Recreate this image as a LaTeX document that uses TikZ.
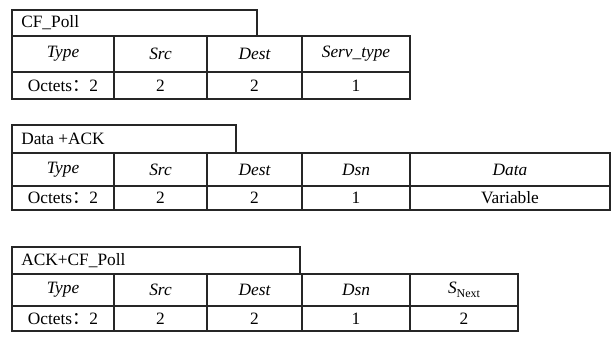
\documentclass[tikz,border=0pt]{standalone}
\usepackage{fontspec}
\setmainfont{Liberation Serif}
\newfontfamily\cjk{Noto Sans CJK SC}
\usepackage{tikz}

\tikzset{
    frame/.style={draw=black!85, line width=0.9pt},
    title/.style={anchor=west, inner sep=0pt},
    field/.style={inner sep=0pt, font=\itshape},
    size/.style={inner sep=0pt},
}
\newcommand{\octets}{Octets{\cjk ：}2}

\begin{document}
\fontsize{13}{15}\selectfont
\begin{tikzpicture}[x=0.75pt, y=-0.75pt]
    \useasboundingbox (0,0) rectangle (616,336);
    % CF_Poll
    \draw[frame] (12,10) rectangle (257,36);
    \node[title] (poll) at (21,23) {CF\_Poll};
    \draw[frame] (12,36) rectangle (410,99);
    \draw[frame] (12,72) -- (410,72);
    \foreach \x in {114,207,302}
        \draw[frame] (\x,36) -- (\x,99);
    \foreach \x/\t/\n in {63/Type/type, 160.5/Src/src, 254.5/Dest/dest, 356/Serv\_type/serv}
        \node[field] (poll-\n) at (\x,54) {\t};
    \node[size] (poll-type-o) at (63,86) {\octets};
    \foreach \x/\t/\n in {160.5/2/src, 254.5/2/dest, 356/1/serv}
        \node[size] (poll-\n-o) at (\x,86) {\t};

    % Data +ACK
    \draw[frame] (12,125) rectangle (236,153);
    \node[title] (data) at (21,139) {Data +ACK};
    \draw[frame] (12,153) rectangle (610,210);
    \draw[frame] (12,186) -- (610,186);
    \foreach \x in {114,207,302,410}
        \draw[frame] (\x,153) -- (\x,210);
    \foreach \x/\t/\n in {63/Type/type, 160.5/Src/src, 254.5/Dest/dest, 356/Dsn/dsn, 510/Data/data}
        \node[field] (data-\n) at (\x,170) {\t};
    \node[size] (data-type-o) at (63,198) {\octets};
    \foreach \x/\t/\n in {160.5/2/src, 254.5/2/dest, 356/1/dsn, 510/Variable/data}
        \node[size] (data-\n-o) at (\x,198) {\t};

    % ACK+CF_Poll
    \draw[frame] (12,247) rectangle (300,274);
    \node[title] (ack) at (21,261) {ACK+CF\_Poll};
    \draw[frame] (12,274) rectangle (518,331);
    \draw[frame] (12,306) -- (518,306);
    \foreach \x in {114,207,302,410}
        \draw[frame] (\x,274) -- (\x,331);
    \foreach \x/\t/\n in {63/Type/type, 160.5/Src/src, 254.5/Dest/dest, 356/Dsn/dsn}
        \node[field] (ack-\n) at (\x,290) {\t};
    \node[field] (ack-next) at (464,290) {S\raisebox{-0.45ex}{\upshape\fontsize{9}{10}\selectfont Next}};
    \node[size] (ack-type-o) at (63,318.5) {\octets};
    \foreach \x/\t/\n in {160.5/2/src, 254.5/2/dest, 356/1/dsn, 464/2/next}
        \node[size] (ack-\n-o) at (\x,318.5) {\t};
\end{tikzpicture}
\end{document}
